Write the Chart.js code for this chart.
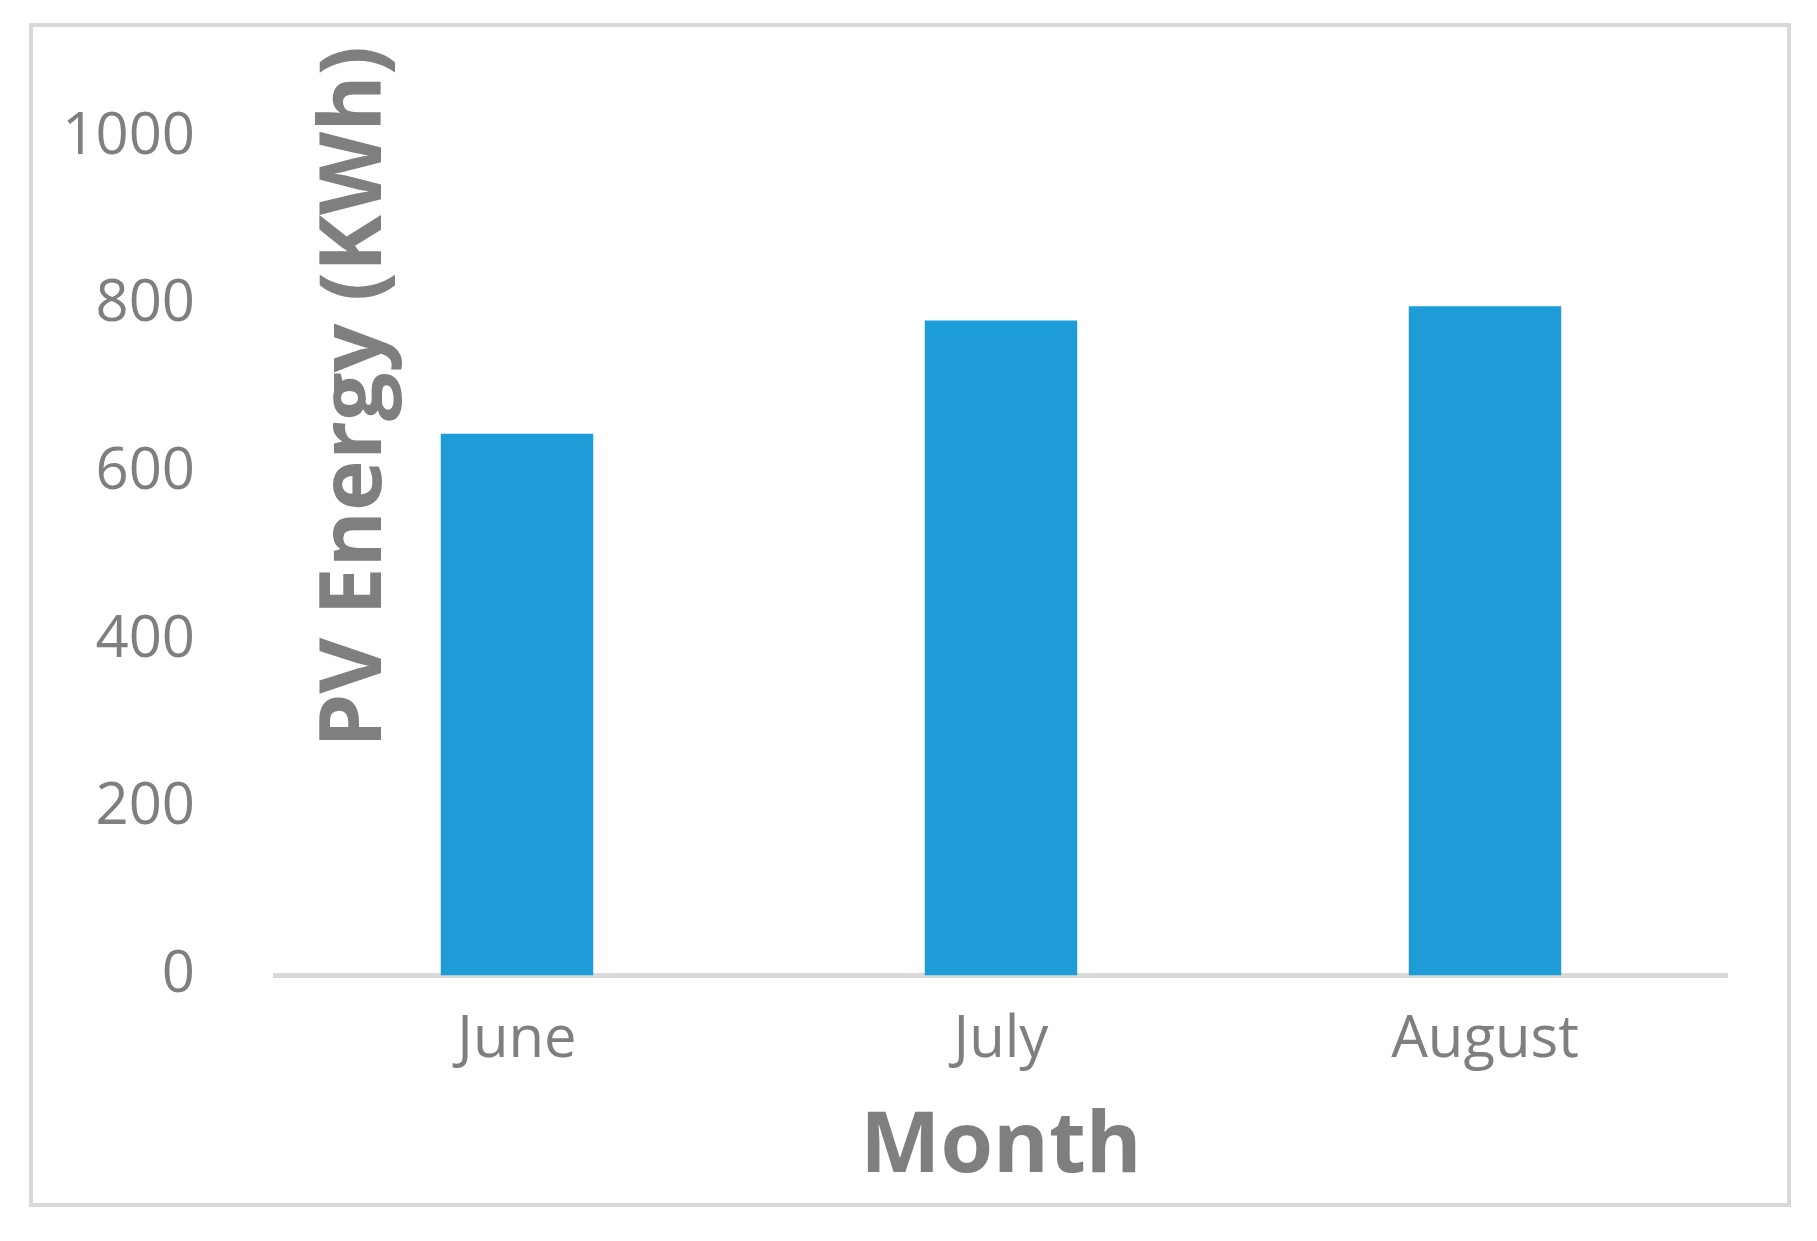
<!DOCTYPE html>
<html>
<head>
<meta charset="utf-8">
<script src="https://cdn.jsdelivr.net/npm/chart.js@4"></script>
<style>
  html, body { margin: 0; padding: 0; background: #fff; }
  #frame { position: absolute; left: 29px; top: 23px; width: 1754px; height: 1176px; border: 4px solid #D9D9D9; }
  #wrap { position: absolute; left: 0; top: 0; width: 1817px; height: 1241px; }
</style>
</head>
<body>
<div id="frame"></div>
<div id="wrap"><canvas id="chart"></canvas></div>
<script>
const months = ['June', 'July', 'August'];
const pvEnergy = [646, 781, 798];
const yTitle = 'PV Energy (KWh)';

const grey = '#7F7F7F';

// y title sits inside the plot, right of the tick labels, as in the original
const yTitlePlugin = {
    id: 'yTitle',
    afterDraw(chart) {
        const { ctx, chartArea } = chart;
        ctx.save();
        ctx.translate(chartArea.left + 81, chartArea.top + 260);
        ctx.rotate(-Math.PI / 2);
        ctx.fillStyle = grey;
        ctx.font = 'bold 86px "Open Sans"';
        ctx.textAlign = 'center';
        ctx.textBaseline = 'middle';
        ctx.fillText(yTitle, 0, 0);
        ctx.restore();
    }
};

new Chart(document.getElementById('chart'), {
    type: 'bar',
    data: {
        labels: months,
        datasets: [{ data: pvEnergy, backgroundColor: '#1E9CD7', barPercentage: 0.63, categoryPercentage: 0.5 }]
    },
    options: {
        responsive: true,
        maintainAspectRatio: false,
        animation: false,
        layout: { padding: { left: 0, right: 90, top: 137, bottom: 42 } },
        plugins: { legend: { display: false }, tooltip: { enabled: false } },
        scales: {
            x: {
                grid: { display: false },
                border: { display: true, color: '#D9D9D9', width: 5 },
                ticks: { color: grey, font: { family: 'Open Sans', size: 58 }, padding: 22 },
                title: { display: true, text: 'Month', color: grey, font: { family: 'Open Sans', size: 85, weight: 'bold' }, padding: 0 }
            },
            y: {
                min: 0,
                max: 1000,
                afterFit: axis => { axis.width = 275; },
                grid: { display: false },
                border: { display: false },
                ticks: { stepSize: 200, color: grey, font: { family: 'Open Sans', size: 58 }, padding: 72, callback: v => String(v) }
            }
        }
    },
    plugins: [yTitlePlugin]
});
</script>
</body>
</html>
